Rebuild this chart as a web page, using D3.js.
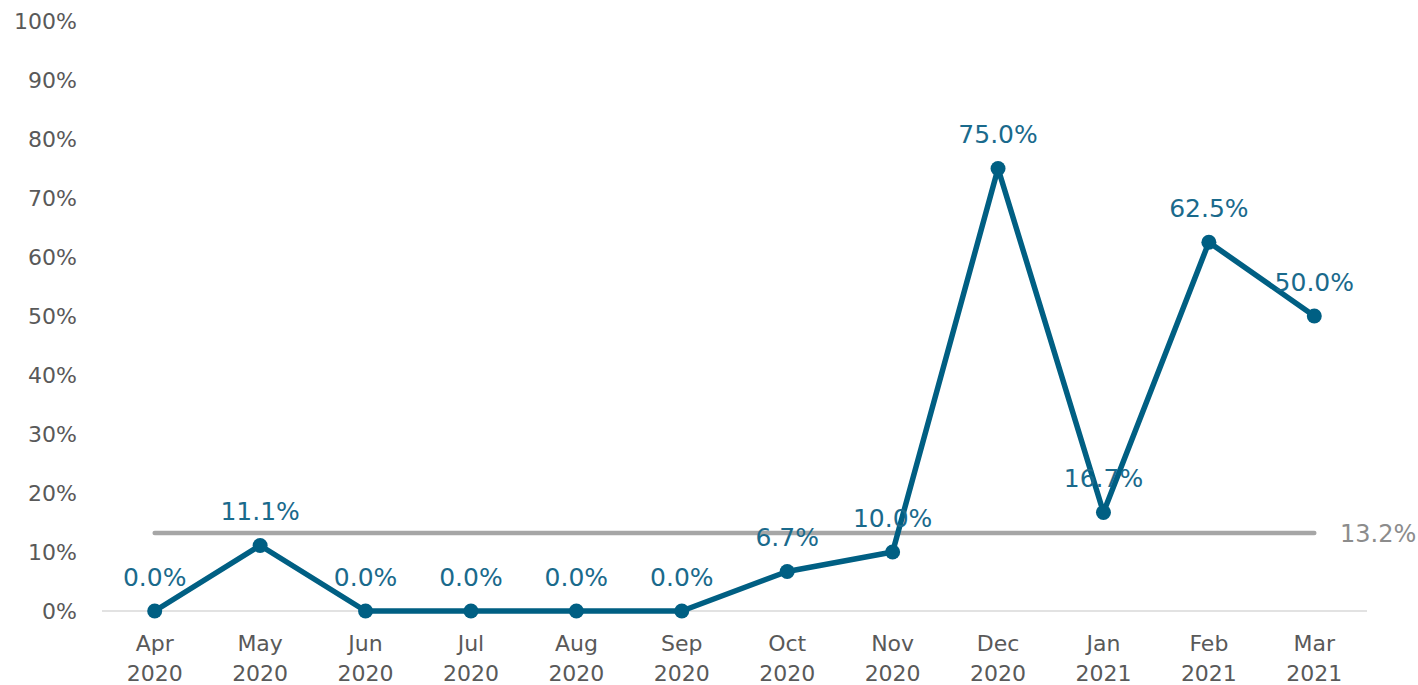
<!DOCTYPE html>
<html lang="en">
<head>
    <meta charset="UTF-8">
    <title>Monthly rate</title>
    <script src="https://d3js.org/d3.v7.min.js"></script>
    <style>
        body { margin: 0; background: #fff; }
        svg text { font-family: "DejaVu Sans", sans-serif; }
    </style>
</head>
<body>
    <div id="chart"></div>
    <script>
        // data
        var months = ["Apr", "May", "Jun", "Jul", "Aug", "Sep", "Oct", "Nov", "Dec", "Jan", "Feb", "Mar"];
        var years = ["2020", "2020", "2020", "2020", "2020", "2020", "2020", "2020", "2020", "2021", "2021", "2021"];
        var rates = [0.0, 11.1, 0.0, 0.0, 0.0, 0.0, 6.7, 10.0, 75.0, 16.7, 62.5, 50.0];
        var average = 13.2;
        var yTicks = [0, 10, 20, 30, 40, 50, 60, 70, 80, 90, 100];

        var W = 1418, H = 685;
        var svg = d3.select("#chart").append("svg")
            .attr("width", W)
            .attr("height", H);

        var keys = months.map(function (m, i) { return m + " " + years[i]; });

        var x = d3.scaleBand()
            .domain(keys)
            .range([102, 1367]);

        var y = d3.scaleLinear()
            .domain([0, 100])
            .range([611, 21]);

        function cx(i) { return x(keys[i]) + x.bandwidth() / 2; }

        // y axis labels
        svg.append("g")
            .selectAll("text")
            .data(yTicks)
            .enter().append("text")
            .attr("x", 77)
            .attr("y", function (d) { return y(d); })
            .attr("dy", "0.35em")
            .attr("text-anchor", "end")
            .attr("fill", "#595959")
            .style("font-size", "22px")
            .text(function (d) { return d + "%"; });

        // x axis line
        svg.append("line")
            .attr("x1", x.range()[0])
            .attr("x2", x.range()[1])
            .attr("y1", y(0))
            .attr("y2", y(0))
            .attr("stroke", "#d9d9d9")
            .attr("stroke-width", 1.5);

        // x labels (two lines)
        var xl = svg.append("g")
            .selectAll("text")
            .data(keys)
            .enter().append("text")
            .attr("text-anchor", "middle")
            .attr("fill", "#595959")
            .style("font-size", "22px");
        xl.append("tspan")
            .attr("x", function (d, i) { return cx(i); })
            .attr("y", 651)
            .text(function (d, i) { return months[i]; });
        xl.append("tspan")
            .attr("x", function (d, i) { return cx(i); })
            .attr("y", 681)
            .text(function (d, i) { return years[i]; });

        // average line
        svg.append("line")
            .attr("x1", cx(0))
            .attr("x2", cx(keys.length - 1))
            .attr("y1", y(average))
            .attr("y2", y(average))
            .attr("stroke", "#a6a6a6")
            .attr("stroke-width", 4.5)
            .attr("stroke-linecap", "round");

        svg.append("text")
            .attr("x", 1340)
            .attr("y", y(average))
            .attr("dy", "0.35em")
            .attr("fill", "#8c8c8c")
            .style("font-size", "24px")
            .text(average.toFixed(1) + "%");

        // series line
        var line = d3.line()
            .x(function (d, i) { return cx(i); })
            .y(function (d) { return y(d); });

        svg.append("path")
            .datum(rates)
            .attr("d", line)
            .attr("fill", "none")
            .attr("stroke", "#005f83")
            .attr("stroke-width", 5.5)
            .attr("stroke-linejoin", "round");

        svg.append("g")
            .selectAll("circle")
            .data(rates)
            .enter().append("circle")
            .attr("cx", function (d, i) { return cx(i); })
            .attr("cy", function (d) { return y(d); })
            .attr("r", 7.5)
            .attr("fill", "#005f83");

        // data labels
        svg.append("g")
            .selectAll("text")
            .data(rates)
            .enter().append("text")
            .attr("x", function (d, i) { return cx(i); })
            .attr("y", function (d) { return y(d) - 34; })
            .attr("dy", "0.35em")
            .attr("text-anchor", "middle")
            .attr("fill", "#1a6a8c")
            .style("font-size", "25px")
            .text(function (d) { return d.toFixed(1) + "%"; });
    </script>
</body>
</html>
